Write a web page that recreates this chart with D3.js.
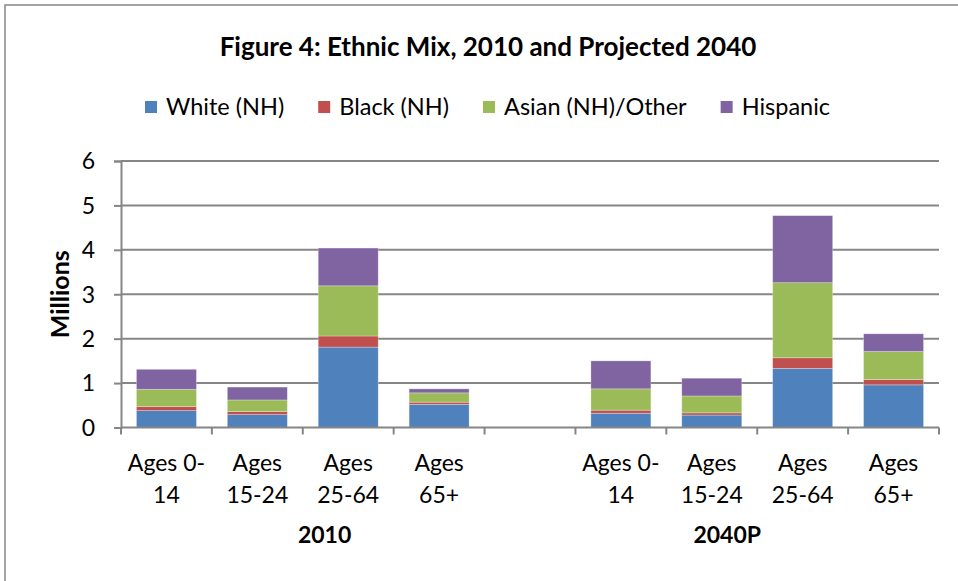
<!DOCTYPE html>
<html>
<head>
<meta charset="utf-8">
<script src="https://cdn.jsdelivr.net/npm/d3@7/dist/d3.min.js"></script>
<style>
  html, body { margin: 0; padding: 0; background: #fff; }
  svg { display: block; font-family: Lato, "Open Sans", sans-serif; }
</style>
</head>
<body>
<svg id="chart" width="958" height="581"></svg>
<script>
// Age groups within each period, and the periods themselves
const ageGroups = ["Ages 0-|14", "Ages 15-24", "Ages 25-64", "Ages 65+"];
const ageLines  = [["Ages 0-", "14"], ["Ages", "15-24"], ["Ages", "25-64"], ["Ages", "65+"]];
const periods   = ["2010", "2040P"];

// Population by ethnicity (millions), one value per age group
const white2010    = [0.38, 0.29, 1.81, 0.52];
const black2010    = [0.09, 0.07, 0.25, 0.05];
const asian2010    = [0.39, 0.26, 1.13, 0.21];
const hispanic2010 = [0.45, 0.29, 0.85, 0.09];

const white2040    = [0.32, 0.28, 1.33, 0.96];
const black2040    = [0.07, 0.05, 0.24, 0.12];
const asian2040    = [0.48, 0.38, 1.69, 0.63];
const hispanic2040 = [0.63, 0.40, 1.51, 0.40];

const seriesNames  = ["White (NH)", "Black (NH)", "Asian (NH)/Other", "Hispanic"];
const seriesColors = ["#4F81BD", "#C0504D", "#9BBB59", "#8064A2"];
const yTicks = [0, 1, 2, 3, 4, 5, 6];

const titleText = "Figure 4: Ethnic Mix, 2010 and Projected 2040";
const yTitle = "Millions";

// Build rows: 2010 ages, an empty slot, then 2040P ages
const valuesByPeriod = {
  "2010":  [white2010, black2010, asian2010, hispanic2010],
  "2040P": [white2040, black2040, asian2040, hispanic2040]
};
const rows = [];
periods.forEach((p, pi) => {
  if (pi > 0) rows.push({ key: "gap" + pi, period: null });
  ageGroups.forEach((a, i) => {
    const r = { key: p + "|" + a, period: p, lines: ageLines[i] };
    seriesNames.forEach((s, si) => { r[s] = valuesByPeriod[p][si][i]; });
    rows.push(r);
  });
});

const svg = d3.select("#chart");
const W = 958, H = 581;
const plot = { left: 121, right: 939, top: 161, bottom: 427.5 };
const grey = "#868686";
const labelSize = 23;

// Outer chart frame
svg.append("rect")
  .attr("x", 5).attr("y", 5)
  .attr("width", W + 20).attr("height", H + 20)
  .attr("fill", "#fff").attr("stroke", grey).attr("stroke-width", 1.5);

// Title
svg.append("text")
  .attr("x", 488).attr("y", 56)
  .attr("text-anchor", "middle")
  .attr("font-size", 26).attr("font-weight", "bold")
  .attr("fill", "#000")
  .text(titleText);

// Scales
const x = d3.scaleBand()
  .domain(rows.map(r => r.key))
  .range([plot.left, plot.right])
  .paddingInner(0).paddingOuter(0);
const y = d3.scaleLinear().domain([0, 6]).range([plot.bottom, plot.top]);
const color = d3.scaleOrdinal().domain(seriesNames).range(seriesColors);

// Gridlines
svg.append("g").selectAll("line")
  .data(yTicks.filter(t => t > 0))
  .join("line")
  .attr("x1", plot.left).attr("x2", plot.right)
  .attr("y1", d => y(d)).attr("y2", d => y(d))
  .attr("stroke", grey).attr("stroke-width", 2);

// Stacked bars
const stack = d3.stack().keys(seriesNames);
const stacked = stack(rows.filter(r => r.period));
const barW = x.bandwidth() * 0.66;
svg.append("g").selectAll("g")
  .data(stacked)
  .join("g")
  .attr("fill", d => color(d.key))
  .selectAll("rect")
  .data(d => d)
  .join("rect")
  .attr("x", d => x(d.data.key) + (x.bandwidth() - barW) / 2)
  .attr("width", barW)
  .attr("y", d => y(d[1]))
  .attr("height", d => y(d[0]) - y(d[1]))
  .attr("stroke", "#ffffff").attr("stroke-opacity", 0.35).attr("stroke-width", 0.8);

// Y axis
const yAxis = d3.axisLeft(y).tickValues(yTicks).tickSize(7).tickPadding(19).tickFormat(d3.format("d"));
const yg = svg.append("g").attr("transform", `translate(${plot.left},0)`).call(yAxis);
yg.select(".domain").attr("stroke", grey).attr("stroke-width", 2);
yg.selectAll(".tick line").attr("stroke", grey).attr("stroke-width", 2);
yg.selectAll(".tick text").attr("font-size", labelSize).attr("fill", "#000").attr("font-family", "Lato, sans-serif").attr("dy", "0.34em");

// Y axis title
svg.append("text")
  .attr("transform", `translate(69,${(plot.top + plot.bottom) / 2}) rotate(-90)`)
  .attr("text-anchor", "middle")
  .attr("font-size", 25).attr("font-weight", "bold")
  .text(yTitle);

// X axis baseline and tick marks at band boundaries
svg.append("line")
  .attr("x1", plot.left).attr("x2", plot.right)
  .attr("y1", plot.bottom).attr("y2", plot.bottom)
  .attr("stroke", grey).attr("stroke-width", 2);
const boundaries = rows.map(r => x(r.key)).concat([plot.right]);
svg.append("g").selectAll("line")
  .data(boundaries)
  .join("line")
  .attr("x1", d => d).attr("x2", d => d)
  .attr("y1", plot.bottom).attr("y2", plot.bottom + 7)
  .attr("stroke", grey).attr("stroke-width", 2);

// Category labels (two lines)
const catG = svg.append("g").selectAll("text")
  .data(rows.filter(r => r.period))
  .join("text")
  .attr("text-anchor", "middle")
  .attr("font-size", labelSize)
  .attr("fill", "#000");
catG.each(function(d) {
  const cx = x(d.key) + x.bandwidth() / 2;
  d3.select(this).selectAll("tspan")
    .data(d.lines)
    .join("tspan")
    .attr("x", cx)
    .attr("y", (l, i) => 471 + i * 32)
    .text(l => l);
});

// Period labels beneath each group
periods.forEach((p, pi) => {
  const groupKeys = rows.filter(r => r.period === p).map(r => r.key);
  const start = x(groupKeys[0]);
  const end = x(groupKeys[groupKeys.length - 1]) + x.bandwidth();
  const shift = pi === 0 ? x.bandwidth() * 0.24 : -x.bandwidth() * 0.33;
  svg.append("text")
    .attr("x", (start + end) / 2 + shift)
    .attr("y", 543)
    .attr("text-anchor", "middle")
    .attr("font-size", labelSize).attr("font-weight", "bold")
    .text(p);
});

// Legend
const legend = svg.append("g").attr("transform", "translate(145,101)");
let lx = 0;
seriesNames.forEach((s, i) => {
  const g = legend.append("g").attr("transform", `translate(${lx},0)`);
  g.append("rect").attr("width", 12).attr("height", 12).attr("fill", seriesColors[i]);
  const t = g.append("text").attr("x", 21).attr("y", 14).attr("font-size", 23.5).attr("fill", "#000").text(s);
  lx += 21 + t.node().getComputedTextLength() + 34;
});
</script>
</body>
</html>
